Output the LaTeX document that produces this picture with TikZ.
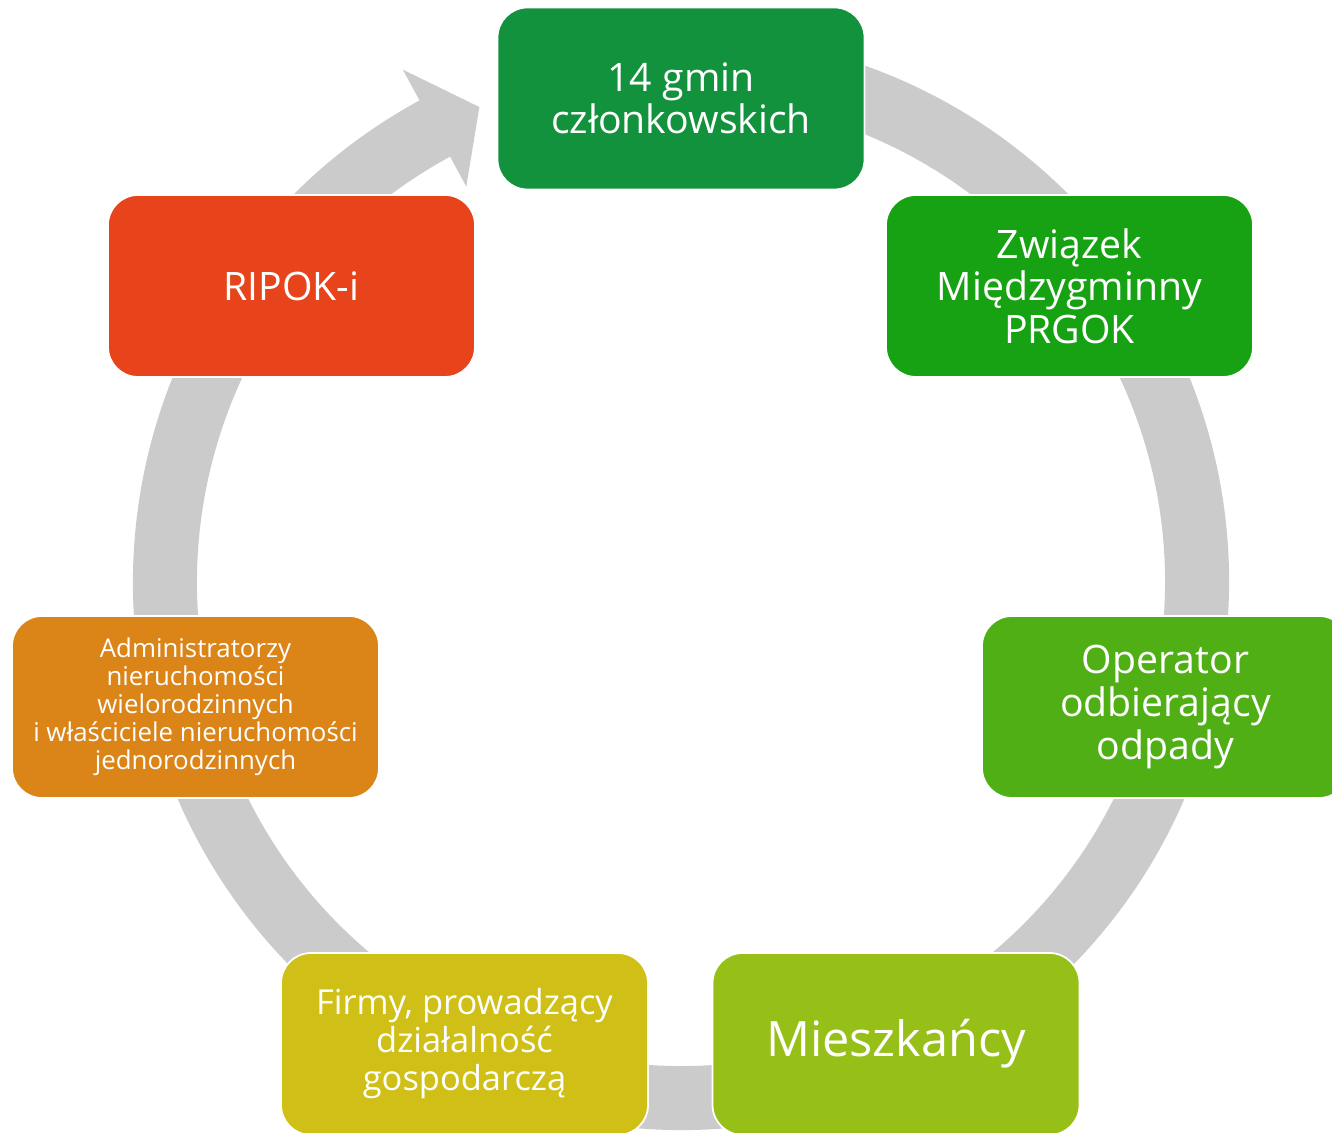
\documentclass[tikz,border=0pt]{standalone}
\usepackage{fontspec}
\setmainfont{Open Sans}
\definecolor{GminyGreen}{HTML}{12923C}
\definecolor{ZwiazekGreen}{HTML}{17A214}
\definecolor{OperatorGreen}{HTML}{4FAF15}
\definecolor{LimeGreen}{HTML}{96C018}
\definecolor{Mustard}{HTML}{CFBF16}
\definecolor{Amber}{HTML}{DB8518}
\definecolor{Vermilion}{HTML}{E8441C}
\definecolor{RingGray}{HTML}{CBCBCB}
\usepackage{tikz}
\usetikzlibrary{positioning}

\begin{document}
\begin{tikzpicture}
        \tikzstyle{box} = [rectangle, rounded corners=0.6cm, minimum width=7.34cm, minimum height=3.64cm, text centered, align=center, draw=white, line width=1pt, text=white, font=\fontsize{22.3}{24.2}\selectfont]
        \tikzstyle{ring} = [fill=RingGray]

        \useasboundingbox (0,0) rectangle (26.64,22.66);

        % Pierścień ze strzałką
        \begin{scope}[shift={(13.62,11.02)}]
            \fill [ring] (80:10.96cm) arc[start angle=80, end angle=-241.5, radius=10.96cm]
                -- (118.5:11.66cm) -- (113:10.32cm) -- (118.5:9.0cm) -- (118.5:9.68cm)
                arc[start angle=118.5, end angle=440, radius=9.68cm] -- cycle;
        \end{scope}

        % Węzły
        \node (gminy) [box, fill=GminyGreen] at (13.62,20.69) {14 gmin\\członkowskich};
        \node (zwiazek) [box, fill=ZwiazekGreen] at (21.39,16.94) {Związek\\Międzygminny\\PRGOK};
        \node (operator) [box, fill=OperatorGreen] at (23.31,8.52) {Operator\\odbierający\\odpady};
        \node (mieszkancy) [box, fill=LimeGreen, font=\fontsize{27.7}{30}\selectfont] at (17.92,1.78) {Mieszkańcy};
        \node (firmy) [box, fill=Mustard, font=\fontsize{19.6}{21.6}\selectfont] at (9.29,1.78) {Firmy, prowadzący\\działalność\\gospodarczą};
        \node (admin) [box, fill=Amber, font=\fontsize{14.7}{15.9}\selectfont] at (3.91,8.52) {Administratorzy\\nieruchomości\\wielorodzinnych\\i właściciele nieruchomości\\jednorodzinnych};
        \node (ripok) [box, fill=Vermilion] at (5.83,16.94) {RIPOK-i};
    \end{tikzpicture}
\end{document}
